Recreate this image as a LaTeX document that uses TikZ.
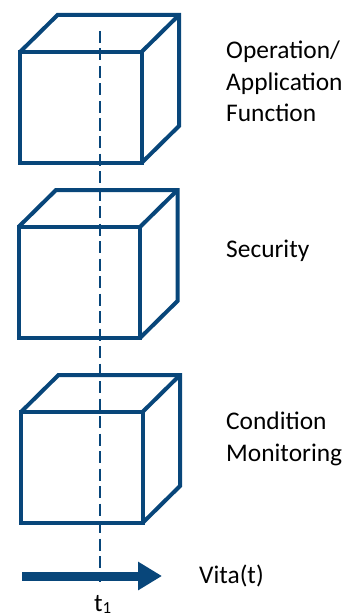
\documentclass[tikz,border=0pt]{standalone}
\usepackage{fontspec}
\setmainfont{Carlito}
\usetikzlibrary{arrows.meta}
\definecolor{vblue}{RGB}{8,70,122}
\begin{document}
\begin{tikzpicture}[x=1bp,y=-1bp,
  cubeline/.style={draw=vblue,line width=4bp,line join=miter},
  label/.style={anchor=base west,inner sep=0pt,align=left,text=black,font=\fontsize{25.5}{32}\selectfont},
  axisline/.style={draw=vblue,line width=2bp,dash pattern=on 12bp off 5.5bp},
  timearrow/.style={draw=vblue,line width=9bp,-{Triangle[length=24bp,width=27bp]}}]
\useasboundingbox (0,0) rectangle (351,616);
\newcommand{\mycube}[2]{%
  \draw[cubeline] (#1,#2) rectangle ++(121.5,111);
  \draw[cubeline] (#1,#2) -- ++(37.5,-37) -- ++(121.5,0) -- ++(0,111) -- ++(-37.5,37);
  \draw[cubeline] (#1+121.5,#2) -- ++(37.5,-37);
}
\mycube{20}{52}
\mycube{18.5}{227}
\mycube{21}{412}
\coordinate (ltop) at (100,31);
\coordinate (lbot) at (100,582);
\draw[axisline] (ltop) -- (lbot);
\coordinate (astart) at (22,576);
\coordinate (aend) at (162,576);
\draw[timearrow] (astart) -- (aend);
\node[label] (op) at (226,122) {Operation/\\Application\\Function};
\node[label] (sec) at (226,257) {Security};
\node[label] (cm) at (226,461) {Condition\\Monitoring};
\node[label] (vita) at (199,583) {Vita(t)};
\node[label] (t1) at (94,611) {t\raisebox{-2bp}{\fontsize{17}{17}\selectfont 1}};
\end{tikzpicture}
\end{document}
